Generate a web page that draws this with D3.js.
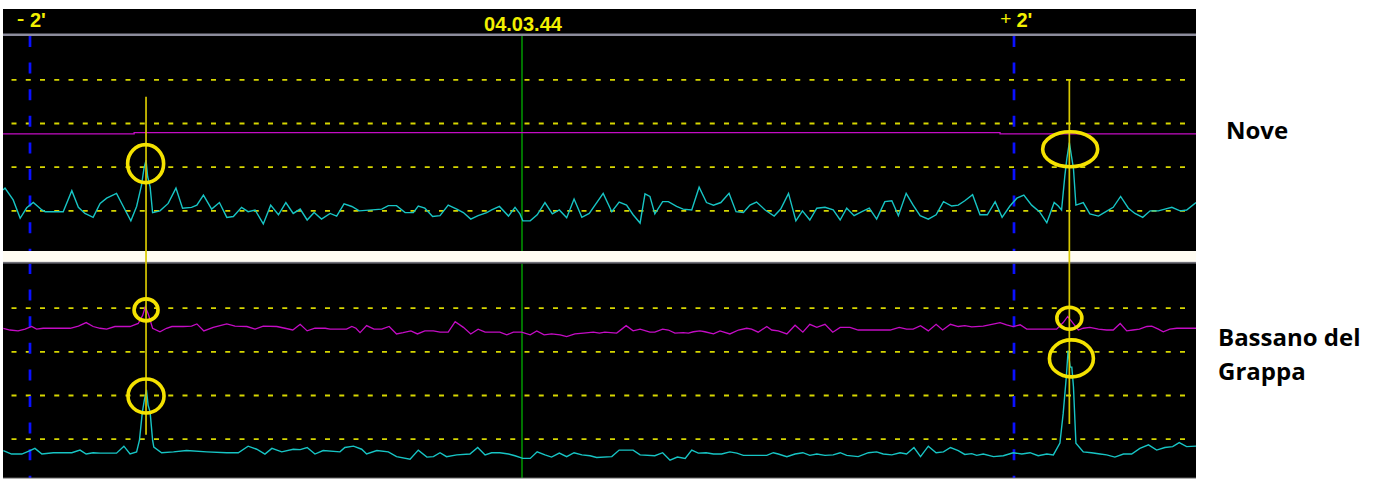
<!DOCTYPE html>
<html>
<head>
<meta charset="utf-8">
<script src="https://cdn.jsdelivr.net/npm/d3@7"></script>
<style>
  html, body { margin: 0; padding: 0; background: #ffffff; }
  svg { display: block; }
</style>
</head>
<body>
<svg id="chart" width="1384" height="480"></svg>
<script>
// ---- data -------------------------------------------------------------
// time in seconds relative to 04.03.44, levels in trace units (grid at 1..4)
const timeTicks = [-120, 0, 120];
const tickLabels = ["- 2'", "04.03.44", "+ 2'"];
const stationNames = ["Nove", "Bassano del Grappa"];
const gridLevels = [1, 2, 3, 4];

const noveCyan = [
  [-126.6,1.48],[-126.1,1.52],[-124.1,1.25],[-122.4,0.83],[-120.8,1.07],[-119.2,1.19],[-117.1,1.02],[-116.3,0.98],
  [-111.9,0.98],[-109.8,1.46],[-108.2,1.08],[-106.6,0.94],[-104.6,0.85],[-102.9,1.17],[-101.3,1.29],[-98.9,1.40],
  [-96.8,1.02],[-95.4,0.77],[-94.0,1.10],[-92.8,1.59],[-92.2,1.97],[-91.7,2.16],[-91.3,1.78],[-90.7,1.55],
  [-90.1,0.96],[-88.3,1.00],[-86.3,1.17],[-84.4,1.52],[-82.8,1.06],[-80.6,1.08],[-79.3,1.13],[-77.7,1.36],
  [-75.7,1.04],[-73.8,1.19],[-72.0,0.85],[-70.4,0.87],[-68.4,1.08],[-66.8,0.98],[-65.1,1.02],[-63.1,0.70],
  [-61.3,1.13],[-59.4,0.91],[-57.6,1.19],[-55.8,0.94],[-54.1,1.04],[-52.4,0.79],[-50.7,0.96],[-48.9,0.81],
  [-46.8,0.94],[-45.2,0.88],[-43.4,1.16],[-41.5,1.10],[-39.7,1.00],[-34.2,1.04],[-32.6,1.12],[-30.6,1.12],
  [-28.5,0.96],[-26.5,0.96],[-25.3,1.11],[-23.7,1.06],[-21.8,0.87],[-20.0,0.89],[-18.0,1.13],[-15.9,1.04],
  [-14.3,0.96],[-12.5,0.81],[-10.7,0.89],[-8.6,0.96],[-7.4,1.02],[-5.5,1.10],[-3.3,0.88],[-1.7,1.08],
  [-0.5,0.93],[0.2,0.77],[2.0,0.77],[3.7,0.91],[5.6,1.19],[7.4,0.93],[9.1,1.02],[10.9,0.84],
  [12.7,1.27],[14.6,0.85],[16.4,0.94],[19.8,1.40],[21.9,0.98],[23.7,1.20],[25.5,1.13],[27.1,0.91],
  [28.8,0.72],[30.0,1.39],[31.2,1.33],[32.4,0.93],[34.3,1.21],[35.7,1.21],[37.7,1.10],[39.3,1.04],
  [41.4,1.02],[43.2,1.54],[45.0,1.19],[46.7,1.13],[48.5,1.19],[50.5,1.40],[52.2,0.98],[54.0,0.96],
  [55.6,1.13],[57.2,1.20],[59.3,1.02],[61.5,0.88],[63.1,1.04],[65.0,1.40],[66.8,0.77],[68.4,1.00],
  [70.2,0.79],[71.9,1.06],[73.9,1.08],[75.9,1.02],[77.6,0.79],[79.2,1.06],[81.0,0.89],[82.9,0.98],
  [84.7,1.06],[86.5,0.81],[88.5,1.21],[90.2,1.23],[91.8,0.89],[93.7,1.40],[95.4,1.13],[97.1,0.89],
  [99.1,0.81],[101.0,0.91],[102.8,1.21],[104.8,1.11],[106.4,1.13],[108.0,1.23],[109.9,1.37],[111.7,0.91],
  [113.5,0.91],[115.4,1.21],[117.1,0.85],[119.0,1.11],[120.7,1.29],[122.4,1.36],[124.3,1.13],[126.2,0.98],
  [128.0,0.73],[129.8,1.19],[130.8,1.11],[131.6,1.02],[132.4,1.80],[132.9,2.20],[133.5,2.56],[134.1,2.20],
  [134.5,1.97],[135.1,1.13],[136.9,1.19],[138.5,0.93],[140.6,0.88],[142.4,0.98],[144.2,1.08],[146.0,1.33],
  [147.9,1.06],[149.5,0.94],[151.4,0.85],[153.2,1.00],[155.2,1.00],[156.8,1.04],[158.5,1.08],[160.5,1.00],
  [162.1,1.02],[164.4,1.19]
];

const noveMagenta = [[-128, 2.76], [-94.6, 2.79], [116.6, 2.76], [165, 2.76]];

const bassanoCyan = [
  [-126.5,0.74],[-124.5,0.66],[-122.0,0.66],[-120.0,0.74],[-118.8,0.79],[-117.1,0.66],[-114.3,0.69],[-109.8,0.69],
  [-107.8,0.75],[-106.3,0.66],[-104.6,0.69],[-102.9,0.68],[-98.9,0.68],[-97.1,0.84],[-95.6,0.66],[-94.0,0.71],
  [-93.3,0.98],[-92.6,1.62],[-92.1,1.90],[-91.6,2.13],[-91.2,1.78],[-90.7,1.62],[-90.1,0.98],[-89.8,0.82],
  [-87.9,0.69],[-85.0,0.71],[-81.8,0.74],[-76.9,0.71],[-72.0,0.69],[-69.2,0.69],[-66.8,0.84],[-64.7,0.77],
  [-62.7,0.66],[-61.0,0.79],[-58.6,0.71],[-55.8,0.77],[-54.1,0.76],[-52.4,0.81],[-50.5,0.66],[-48.5,0.74],
  [-44.4,0.71],[-43.2,0.81],[-41.1,0.84],[-39.1,0.77],[-37.9,0.66],[-35.4,0.74],[-32.6,0.71],[-30.6,0.60],
  [-27.3,0.54],[-25.3,0.75],[-23.2,0.59],[-21.6,0.60],[-20.0,0.69],[-18.4,0.60],[-15.9,0.64],[-12.7,0.66],
  [-10.8,0.81],[-9.0,0.64],[-7.4,0.69],[-5.4,0.69],[-3.3,0.66],[-1.7,0.62],[0.2,0.56],[2.0,0.56],
  [3.7,0.71],[5.6,0.64],[7.2,0.59],[9.1,0.68],[10.9,0.60],[12.7,0.69],[14.6,0.64],[16.6,0.62],
  [18.2,0.58],[21.9,0.60],[23.7,0.75],[27.1,0.75],[28.8,0.64],[32.4,0.62],[34.3,0.69],[36.1,0.52],
  [37.9,0.59],[39.8,0.56],[41.4,0.75],[43.0,0.68],[44.9,0.69],[46.7,0.66],[48.7,0.66],[50.7,0.71],
  [52.4,0.68],[54.0,0.63],[59.7,0.63],[61.3,0.69],[62.5,0.66],[64.6,0.60],[66.6,0.66],[68.5,0.69],
  [70.2,0.63],[71.9,0.66],[73.9,0.63],[75.9,0.64],[77.6,0.69],[79.2,0.63],[82.0,0.60],[84.5,0.69],
  [86.5,0.71],[88.1,0.66],[90.2,0.64],[92.2,0.69],[93.8,0.66],[95.6,0.81],[97.2,0.60],[99.1,0.84],
  [101.0,0.69],[102.8,0.71],[104.5,0.81],[106.4,0.74],[108.0,0.65],[109.7,0.67],[110.9,0.63],[112.5,0.66],
  [115.0,0.60],[117.4,0.62],[119.8,0.69],[121.9,0.66],[123.9,0.69],[125.9,0.62],[128.0,0.66],[129.6,0.64],
  [131.2,0.91],[132.0,1.59],[132.7,2.36],[132.9,2.62],[133.2,3.03],[133.7,2.65],[134.1,2.65],[134.5,2.20],
  [135.1,0.91],[136.9,0.71],[138.9,0.69],[141.0,0.66],[142.6,0.64],[144.6,0.59],[146.7,0.66],[148.7,0.66],
  [150.7,0.79],[152.8,0.87],[154.8,0.75],[156.8,0.81],[158.7,0.83],[160.3,0.92],[162.1,0.83],[164.4,0.84]
];

const bassanoMagenta = [
  [-126.5,3.54],[-124.9,3.50],[-122.9,3.48],[-121.2,3.52],[-119.6,3.58],[-118.4,3.52],[-116.8,3.54],[-110.2,3.54],
  [-108.2,3.59],[-106.3,3.67],[-104.6,3.58],[-102.9,3.54],[-101.3,3.52],[-99.3,3.58],[-95.6,3.58],[-93.6,3.65],
  [-92.5,3.84],[-91.9,4.03],[-91.2,3.88],[-90.1,3.54],[-88.3,3.46],[-86.7,3.54],[-85.4,3.58],[-82.6,3.58],
  [-80.6,3.59],[-79.3,3.64],[-77.6,3.48],[-75.3,3.56],[-72.0,3.64],[-70.0,3.59],[-67.1,3.58],[-65.1,3.52],
  [-63.1,3.59],[-59.8,3.58],[-57.8,3.54],[-55.9,3.50],[-54.1,3.63],[-52.4,3.48],[-50.5,3.54],[-48.0,3.54],
  [-46.8,3.52],[-42.8,3.52],[-41.5,3.58],[-40.5,3.54],[-39.5,3.44],[-37.9,3.60],[-36.1,3.52],[-34.2,3.52],
  [-32.4,3.58],[-30.6,3.41],[-29.0,3.44],[-27.1,3.48],[-25.5,3.41],[-23.7,3.48],[-21.6,3.48],[-20.0,3.45],
  [-18.0,3.45],[-16.3,3.69],[-14.3,3.56],[-12.5,3.41],[-10.7,3.52],[-9.0,3.45],[-5.4,3.45],[-3.7,3.39],
  [-2.1,3.45],[-0.1,3.45],[2.0,3.39],[3.6,3.48],[5.4,3.39],[7.2,3.41],[9.3,3.39],[10.9,3.35],
  [12.9,3.41],[15.0,3.43],[17.4,3.45],[18.9,3.43],[20.2,3.45],[23.1,3.43],[25.4,3.60],[27.1,3.48],
  [28.8,3.52],[31.2,3.45],[32.4,3.45],[34.3,3.52],[35.7,3.50],[37.3,3.43],[39.3,3.44],[40.6,3.43],
  [41.8,3.46],[43.4,3.48],[44.6,3.46],[46.7,3.41],[48.3,3.48],[50.7,3.41],[52.8,3.50],[54.8,3.54],
  [56.0,3.52],[57.6,3.45],[59.7,3.58],[60.9,3.50],[62.5,3.48],[64.6,3.41],[66.6,3.61],[68.5,3.45],
  [70.2,3.63],[71.9,3.56],[73.9,3.63],[75.8,3.45],[77.6,3.56],[80.0,3.56],[82.0,3.50],[85.7,3.50],
  [89.8,3.50],[92.0,3.56],[93.8,3.52],[95.4,3.52],[97.2,3.60],[99.1,3.48],[101.0,3.63],[102.6,3.50],
  [104.5,3.63],[106.4,3.58],[108.0,3.60],[109.7,3.57],[112.5,3.59],[114.6,3.63],[116.6,3.67],[118.2,3.62],
  [119.8,3.58],[121.5,3.62],[123.1,3.52],[130.4,3.52],[132.0,3.67],[133.1,3.81],[134.1,3.69],[135.7,3.50],
  [136.9,3.54],[138.5,3.56],[140.6,3.52],[142.6,3.50],[144.2,3.50],[145.9,3.65],[147.5,3.48],[149.0,3.50],
  [150.6,3.52],[152.4,3.58],[153.6,3.59],[155.2,3.52],[156.4,3.46],[158.0,3.52],[159.7,3.54],[162.1,3.54],
  [164.4,3.54]
];

// two events, each marked by a vertical line running from the Nove panel
// down into the Bassano panel
const eventTimes = [-91.7, 133.5];
const eventStartLevels = [3.61, 4.0];   // level on the Nove panel
const eventEndLevels = [1.10, 1.35];    // level on the Bassano panel

// peaks ringed on each panel: [time, level]
const noveRings = [[-91.8, 2.08], [133.7, 2.41]];
const bassanoRings = [[-91.7, 3.96], [-91.7, 1.99], [133.5, 3.77], [134.0, 2.85]];

// ---- layout & style ----------------------------------------------------
const frameLeft = 3, frameRight = 1196, frameTop = 9, headerBottom = 34;
const ringSizes = [[[18, 19], [27.5, 17.5]], [[12, 11], [18, 17], [12.5, 11], [22, 18.5]]];
const colors = {
  bg: "#000000", header: "#f2f000", rule: "#8c8c9c", grid: "#d6d600",
  minute: "#0a10ff", center: "#009000", cyan: "#17c4c4", magenta: "#c40cc4",
  event: "#d8c800", ring: "#f4e200", sep: "#fffcf2"
};

const svg = d3.select("#chart");
const x = d3.scaleLinear().domain([-120, 120]).range([30, 1014]);

const panels = [
  { top: 36, bottom: 251, y: d3.scaleLinear().domain([0, 5]).range([254.5, 36.15]),
    cyan: noveCyan, magenta: noveMagenta, rings: noveRings, sizes: ringSizes[0],
    name: stationNames[0], labelX: 1226, labelY: 138.5 },
  { top: 263, bottom: 478, y: d3.scaleLinear().domain([0, 5]).range([482.85, 264.5]),
    cyan: bassanoCyan, magenta: bassanoMagenta, rings: bassanoRings, sizes: ringSizes[1],
    name: stationNames[1], labelX: 1218, labelY: 346 }
];

// black display area
svg.append("rect").attr("x", frameLeft).attr("y", frameTop)
  .attr("width", frameRight - frameLeft).attr("height", 478 - frameTop)
  .attr("fill", colors.bg);

// header: time labels
const header = svg.append("g").attr("font-family", "'Liberation Sans', Arial, sans-serif");
timeTicks.forEach((t, i) => {
  const label = tickLabels[i];
  const parts = label.split(" ");
  if (parts.length === 1) {
    header.append("text").attr("x", x(t) + 1).attr("y", 30.7)
      .attr("text-anchor", "middle").attr("font-size", 20).attr("font-weight", "bold")
      .attr("fill", colors.header).text(label);
  } else {
    const plus = parts[0] === "+";
    header.append("text").attr("x", x(t) + (plus ? -13.8 : -13.2)).attr("y", plus ? 24.6 : 26.3)
      .attr("font-size", plus ? 19 : 23).attr("fill", colors.header).text(parts[0]);
    header.append("text").attr("x", x(t) + (plus ? 2.5 : 0)).attr("y", 27)
      .attr("font-size", 20).attr("font-weight", "bold")
      .attr("fill", colors.header).text(parts.slice(1).join(" "));
  }
});
svg.append("rect").attr("x", frameLeft).attr("y", headerBottom - 0.5)
  .attr("width", frameRight - frameLeft).attr("height", 2.5).attr("fill", colors.rule);

const line = d3.line();

panels.forEach((p, i) => {
  const clipId = "clip" + i;
  svg.append("clipPath").attr("id", clipId).append("rect")
    .attr("x", frameLeft).attr("y", p.top)
    .attr("width", frameRight - frameLeft).attr("height", p.bottom - p.top);
  const g = svg.append("g").attr("clip-path", `url(#${clipId})`);

  // level grid
  g.selectAll("line.grid").data(gridLevels).join("line")
    .attr("class", "grid")
    .attr("x1", 11.5).attr("x2", 1190)
    .attr("y1", d => p.y(d)).attr("y2", d => p.y(d))
    .attr("stroke", colors.grid).attr("stroke-width", 1.8)
    .attr("stroke-dasharray", "5,9.25");

  // +/- 2 minute markers
  g.selectAll("line.minute").data([timeTicks[0], timeTicks[2]]).join("line")
    .attr("class", "minute")
    .attr("x1", d => x(d)).attr("x2", d => x(d))
    .attr("y1", p.top).attr("y2", p.bottom)
    .attr("stroke", colors.minute).attr("stroke-width", 2.7)
    .attr("stroke-dasharray", "11,15.6");

  // reference time
  g.append("line")
    .attr("x1", x(timeTicks[1])).attr("x2", x(timeTicks[1]))
    .attr("y1", p.top).attr("y2", p.bottom)
    .attr("stroke", colors.center).attr("stroke-width", 1.6);

  line.x(d => x(d[0])).y(d => p.y(d[1]));
  g.append("path").datum(p.magenta)
    .attr("d", i === 0 ? line.curve(d3.curveStepAfter)(p.magenta) : line.curve(d3.curveLinear)(p.magenta))
    .attr("fill", "none").attr("stroke", colors.magenta).attr("stroke-width", 1.3);
  line.curve(d3.curveLinear);
  g.append("path").datum(p.cyan).attr("d", line)
    .attr("fill", "none").attr("stroke", colors.cyan).attr("stroke-width", 1.4)
    .attr("stroke-linejoin", "miter");

  // station name
  const words = p.name.split(" ");
  const lines = words.length > 2 ? [words.slice(0, -1).join(" "), words[words.length - 1]] : [p.name];
  const txt = svg.append("text").attr("x", p.labelX).attr("y", p.labelY)
    .attr("font-family", "'Open Sans', sans-serif").attr("font-weight", "bold")
    .attr("font-size", 24).attr("fill", "#000");
  lines.forEach((l, k) => {
    txt.append("tspan").attr("x", p.labelX).attr("dy", k === 0 ? 0 : 33.5).text(l);
  });
});

// separator between panels
svg.append("rect").attr("x", frameLeft).attr("y", 251)
  .attr("width", frameRight - frameLeft).attr("height", 11).attr("fill", colors.sep);
svg.append("rect").attr("x", frameLeft).attr("y", 261.7)
  .attr("width", frameRight - frameLeft).attr("height", 1).attr("fill", "#b8b8c2");
svg.append("rect").attr("x", frameLeft).attr("y", 262.7)
  .attr("width", frameRight - frameLeft).attr("height", 1.2).attr("fill", "#4a4a52");
// bottom edge
svg.append("rect").attr("x", frameLeft).attr("y", 477.6)
  .attr("width", frameRight - frameLeft).attr("height", 1).attr("fill", "#7a7a7a");

// event lines
svg.selectAll("line.event").data(eventTimes).join("line")
  .attr("class", "event")
  .attr("x1", d => x(d)).attr("x2", d => x(d))
  .attr("y1", (d, i) => panels[0].y(eventStartLevels[i]))
  .attr("y2", (d, i) => panels[1].y(eventEndLevels[i]))
  .attr("stroke", colors.event).attr("stroke-width", 1.7);

// rings around peaks
panels.forEach(p => {
  svg.append("g").selectAll("ellipse").data(p.rings).join("ellipse")
    .attr("cx", d => x(d[0])).attr("cy", d => p.y(d[1]))
    .attr("rx", (d, k) => p.sizes[k][0]).attr("ry", (d, k) => p.sizes[k][1])
    .attr("fill", "none").attr("stroke", colors.ring).attr("stroke-width", 3.6);
});
</script>
</body>
</html>
